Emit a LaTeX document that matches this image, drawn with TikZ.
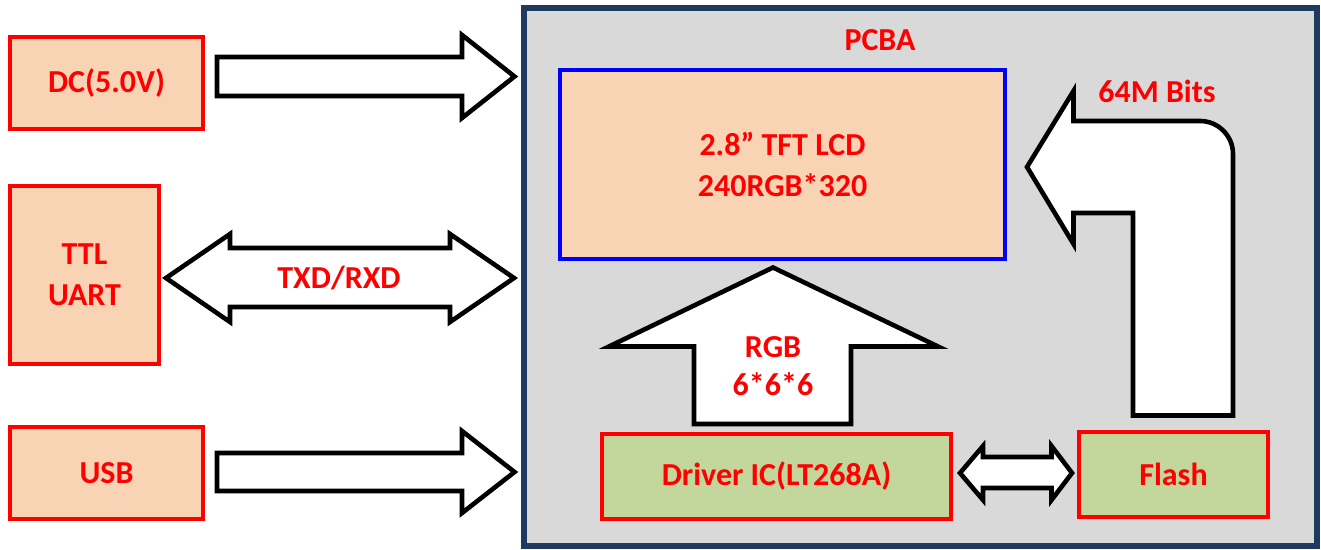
\documentclass[tikz,border=0pt]{standalone}
\usepackage{fontspec}
\setmainfont{Carlito}
\definecolor{peach}{RGB}{249,212,180}
\definecolor{olive}{RGB}{195,214,155}
\definecolor{pcbgrey}{RGB}{217,217,217}
\definecolor{navy}{RGB}{31,58,95}
\definecolor{lcdblue}{RGB}{0,0,255}
\tikzset{
  txt/.style={font=\fontsize{32}{41}\selectfont\bfseries, text=red, align=center, inner sep=0pt},
  redbox/.style={draw=red, line width=4.6pt, rectangle, inner sep=0pt, txt},
  peachbox/.style={redbox, fill=peach},
  greenbox/.style={redbox, fill=olive},
  blockarrow/.style={draw=black, fill=white, line width=4.6pt, line join=miter},
}
\begin{document}
\begin{tikzpicture}[x=1pt,y=-1pt]
\useasboundingbox (0,0) rectangle (1321,549);
\fill[white] (0,0) rectangle (1321,549);
% PCBA board
\draw[navy, line width=5.5pt, fill=pcbgrey] (524,8) rectangle (1317,546);
\node[txt] (pcba) at (880,40) {PCBA};
% external boxes
\node[peachbox, minimum width=193pt, minimum height=92pt] (dc) at (106.5,83) {DC(5.0V)};
\node[peachbox, minimum width=149pt, minimum height=178pt] (ttl) at (84.5,275) {TTL\\UART};
\node[peachbox, minimum width=193pt, minimum height=92pt] (usb) at (106.5,473) {USB};
% inner boxes
\node[draw=lcdblue, line width=4.6pt, fill=peach, txt, minimum width=445pt, minimum height=189pt] (lcd) at (782.5,164.5) {2.8” TFT LCD\\240RGB*320};
\node[greenbox, minimum width=349pt, minimum height=85pt] (drv) at (776.5,476.5) {Driver IC(LT268A)};
\node[greenbox, minimum width=189pt, minimum height=85pt] (flash) at (1173.5,474.5) {Flash};
% DC arrow
\draw[blockarrow] (217,57) -- (462,57) -- (462,35) -- (514.5,76.5) -- (462,118) -- (462,96) -- (217,96) -- cycle;
% USB arrow
\draw[blockarrow] (217,453) -- (462,453) -- (462,431) -- (514.5,472) -- (462,513) -- (462,491) -- (217,491) -- cycle;
% TXD/RXD double arrow
\draw[blockarrow] (166,278) -- (230,234) -- (230,248) -- (450,248) -- (450,234) -- (514,278) -- (450,322) -- (450,307) -- (230,307) -- (230,322) -- cycle;
\node[txt] (txd) at (339,278) {TXD/RXD};
% RGB arrow
\draw[blockarrow] (773,267.5) -- (938,346.5) -- (851,346.5) -- (851,424) -- (694,424) -- (694,346.5) -- (609,346.5) -- cycle;
\node[txt, font=\fontsize{32}{38}\selectfont\bfseries] (rgb) at (773,366) {RGB\\6*6*6};
% Driver <-> Flash
\draw[blockarrow] (960,473) -- (983,446) -- (983,457) -- (1051.5,457) -- (1051.5,446) -- (1072,473) -- (1051.5,500) -- (1051.5,488) -- (983,488) -- (983,500) -- cycle;
% Bent arrow Flash -> LCD
\draw[blockarrow] (1027,167) -- (1073.5,91) -- (1073.5,121) -- (1200,121) .. controls (1218.2,121) and (1233,135.8) .. (1233,154) -- (1233,415.5) -- (1133,415.5) -- (1133,213) -- (1073.5,213) -- (1073.5,244) -- cycle;
\node[txt] (bits) at (1157,91) {64M Bits};
\end{tikzpicture}
\end{document}
